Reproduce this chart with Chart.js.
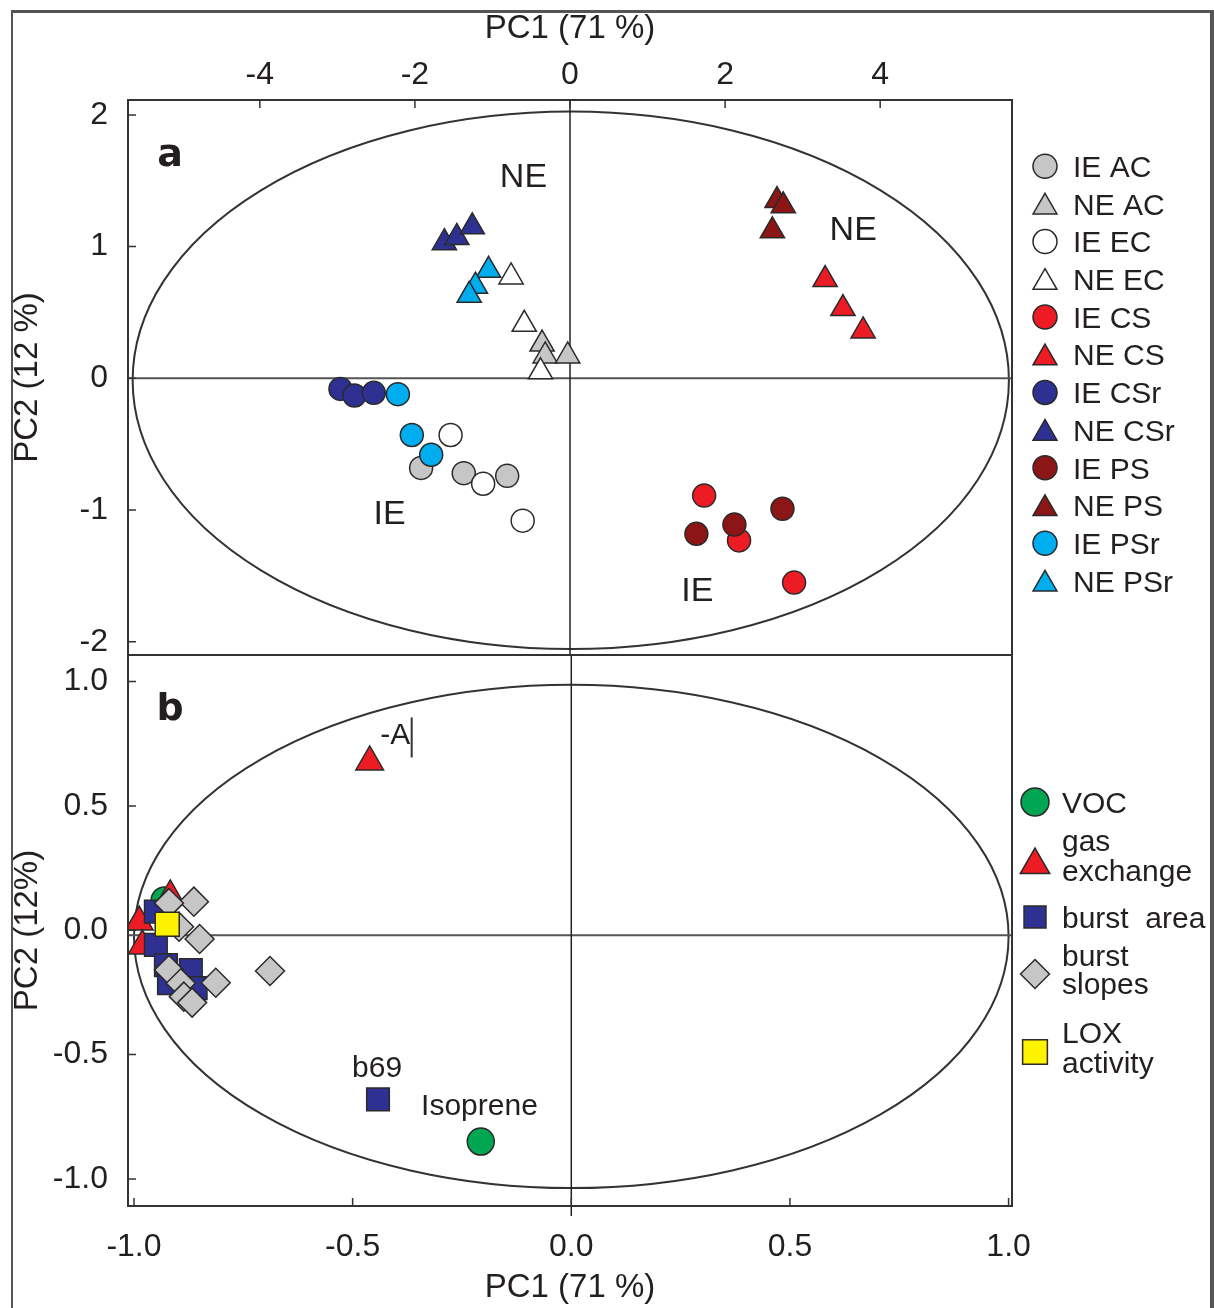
<!DOCTYPE html>
<html>
<head>
<meta charset="utf-8">
<script src="https://cdn.jsdelivr.net/npm/chart.js@4.4.0/dist/chart.umd.min.js"></script>
<style>
  html, body { margin: 0; padding: 0; background: #fff; width: 1214px; height: 1308px; overflow: hidden; }
  #frame { position: absolute; left: 11px; top: 10px; width: 1203px; height: 1330px; box-sizing: border-box;
           border-left: 2px solid #555; border-top: 3px solid #555; border-right: 4px solid #555; }
  #ca { position: absolute; left: 0; top: 0; }
  #cb { position: absolute; left: 0; top: 600px; }
</style>
</head>
<body>
<div id="frame"></div>
<canvas id="ca" width="1214" height="700" style="width:1214px;height:700px"></canvas>
<canvas id="cb" width="1214" height="708" style="width:1214px;height:708px"></canvas>
<script>
// ---------------- DATA : panel a (scores, PC1 vs PC2) ----------------
const seriesNamesA = ['IE AC', 'NE AC', 'IE EC', 'NE EC', 'IE CS', 'NE CS', 'IE CSr', 'NE CSr', 'IE PS', 'NE PS', 'IE PSr', 'NE PSr'];
const ieAC  = [[-1.92, -0.68], [-1.37, -0.72], [-0.81, -0.74]];
const neAC  = [[-0.36, 0.26], [-0.32, 0.17], [-0.03, 0.17]];
const ieEC  = [[-1.54, -0.43], [-1.12, -0.80], [-0.61, -1.08]];
const neEC  = [[-0.76, 0.77], [-0.59, 0.41], [-0.38, 0.05]];
const ieCS  = [[1.73, -0.89], [2.18, -1.23], [2.89, -1.55]];
const neCS  = [[3.29, 0.75], [3.52, 0.53], [3.78, 0.36]];
const ieCSr = [[-2.96, -0.08], [-2.78, -0.13], [-2.53, -0.11]];
const neCSr = [[-1.62, 1.03], [-1.46, 1.07], [-1.26, 1.15]];
const iePS  = [[1.63, -1.18], [2.12, -1.11], [2.74, -0.99]];
const nePS  = [[2.67, 1.35], [2.75, 1.31], [2.61, 1.12]];
const iePSr = [[-2.22, -0.12], [-2.04, -0.43], [-1.79, -0.58]];
const nePSr = [[-1.05, 0.82], [-1.22, 0.70], [-1.30, 0.63]];
const xTicksA = [-4, -2, 0, 2, 4];
const yTicksA = [-2, -1, 0, 1, 2];
const groupLabelsA = [['NE', -0.60, 1.52], ['IE', -2.327, -1.035], ['NE', 3.652, 1.125], ['IE', 1.642, -1.62]];
const ellipseA = { cx: 0.01, cy: -0.015, rx: 5.65, ry: 2.04 };

// ---------------- DATA : panel b (loadings) ----------------
const seriesNamesB = ['VOC', 'gas\nexchange', 'burst  area', 'burst\nslopes', 'LOX\nactivity'];
const voc         = [[-0.93, 0.12], [-0.207, -0.85]];
const gasExchange = [[-0.917, 0.138], [-0.988, 0.033], [-0.981, -0.063], [-0.461, 0.677]];
const burstArea   = [[-0.95, 0.075], [-0.95, -0.059], [-0.927, -0.14], [-0.87, -0.16], [-0.92, -0.213], [-0.859, -0.233], [-0.442, -0.68]];
const burstSlopes = [[-0.863, 0.115], [-0.92, 0.109], [-0.897, 0.014], [-0.85, -0.035], [-0.92, -0.16], [-0.813, -0.211], [-0.689, -0.164], [-0.893, -0.213], [-0.886, -0.267], [-0.867, -0.291]];
const loxActivity = [[-0.924, 0.024]];
const xTicksB = [-1.0, -0.5, 0.0, 0.5, 1.0];
const yTicksB = [-1.0, -0.5, 0.0, 0.5, 1.0];
const pointLabelsB = [['-A', -0.4026, 0.782], ['b69', -0.444, -0.556], ['Isoprene', -0.210, -0.711]];
const ellipseB = { cx: 0, cy: -0.025, rx: 1.0, ry: 1.012 };
const zeroLineB = -0.02;

// ---------------- styles ----------------
const FONT = "'Liberation Sans', Arial, Helvetica, sans-serif";
const INK = '#231f20';
const EDGE = '#2a2a2a';
const C = { gray: '#c6c6c6', white: '#ffffff', red: '#ed1c24', dblue: '#2e3192', dred: '#8c1515', lblue: '#00aeef', green: '#00a651', yellow: '#fff200' };

const seriesA = [ieAC, neAC, ieEC, neEC, ieCS, neCS, ieCSr, neCSr, iePS, nePS, iePSr, nePSr];
const fillsA = [C.gray, C.gray, C.white, C.white, C.red, C.red, C.dblue, C.dblue, C.dred, C.dred, C.lblue, C.lblue];
const seriesB = [voc, gasExchange, burstArea, burstSlopes, loxActivity];
const fillsB = [C.green, C.red, C.dblue, C.gray, C.yellow];
const stylesB = ['circle', 'triangle', 'rect', 'rectRot', 'rect'];
const radiiB = [13.5, 16, 16, 14.5, 17];
const zB = [5, 4, 3, 2, 1];

function toXY(arr) { return arr.map(([x, y]) => ({ x, y })); }

function marker(ctx, style, x, y, r, fill) {
  ctx.save();
  ctx.fillStyle = fill; ctx.strokeStyle = EDGE; ctx.lineWidth = 1.5;
  if (Chart.helpers && Chart.helpers.drawPoint) {
    Chart.helpers.drawPoint(ctx, { pointStyle: style, radius: r, rotation: 0, borderWidth: 1.5 }, x, y);
  } else {
    ctx.beginPath();
    if (style === 'circle') ctx.arc(x, y, r, 0, Math.PI * 2);
    else if (style === 'triangle') { ctx.moveTo(x, y - r); ctx.lineTo(x + r * 0.866, y + r / 2); ctx.lineTo(x - r * 0.866, y + r / 2); ctx.closePath(); }
    else if (style === 'rect') { const s = r * Math.SQRT1_2; ctx.rect(x - s, y - s, 2 * s, 2 * s); }
    else { ctx.moveTo(x, y - r); ctx.lineTo(x + r, y); ctx.lineTo(x, y + r); ctx.lineTo(x - r, y); ctx.closePath(); }
    ctx.fill(); ctx.stroke();
  }
  ctx.restore();
}

function fixedAxis(size, horizontal) {
  return s => {
    if (horizontal) s.height = size; else s.width = size;
    s.paddingLeft = 0; s.paddingRight = 0; s.paddingTop = 0; s.paddingBottom = 0;
  };
}
function setTicks(values) { return s => { s.ticks = values.map(v => ({ value: v })); }; }

function drawFrameAndLines(chart, ell, zeroY, vExtend) {
  const { ctx, chartArea: a, scales: { x, y } } = chart;
  ctx.save();
  const cx = x.getPixelForValue(ell.cx), cy = y.getPixelForValue(ell.cy);
  const rx = x.getPixelForValue(ell.cx + ell.rx) - cx;
  const ry = cy - y.getPixelForValue(ell.cy + ell.ry);
  ctx.beginPath(); ctx.ellipse(cx, cy, rx, ry, 0, 0, Math.PI * 2);
  ctx.lineWidth = 2; ctx.strokeStyle = '#333'; ctx.stroke();
  const y0 = y.getPixelForValue(zeroY);
  ctx.beginPath(); ctx.moveTo(a.left, y0); ctx.lineTo(a.right, y0);
  ctx.lineWidth = 2; ctx.strokeStyle = '#555'; ctx.stroke();
  const x0 = x.getPixelForValue(0);
  ctx.beginPath(); ctx.moveTo(x0, a.top); ctx.lineTo(x0, a.bottom + vExtend);
  ctx.lineWidth = 1.5; ctx.strokeStyle = '#222'; ctx.stroke();
  ctx.restore();
}

function drawBoxAndTicks(chart, xt, yt, xFromTop) {
  const { ctx, chartArea: a, scales: { x, y } } = chart;
  ctx.save();
  ctx.strokeStyle = '#333'; ctx.lineWidth = 2;
  ctx.strokeRect(a.left, a.top, a.right - a.left, a.bottom - a.top);
  ctx.lineWidth = 1.5;
  ctx.beginPath();
  xt.forEach(v => {
    const px = x.getPixelForValue(v);
    if (xFromTop) { ctx.moveTo(px, a.top); ctx.lineTo(px, a.top + 8); }
    else { ctx.moveTo(px, a.bottom); ctx.lineTo(px, a.bottom - 8); }
  });
  yt.forEach(v => {
    const py = y.getPixelForValue(v);
    ctx.moveTo(a.left, py); ctx.lineTo(a.left + 8, py);
  });
  ctx.stroke();
  ctx.restore();
}

const tickFont = { family: FONT, size: 32 };
const titleFont = { family: FONT, size: 33 };

// ---------------- Chart a ----------------
const decorA = {
  id: 'decorA',
  beforeDatasetsDraw(chart) { drawFrameAndLines(chart, ellipseA, 0, 0); },
  afterDatasetsDraw(chart) {
    drawBoxAndTicks(chart, xTicksA, yTicksA, true);
    const { ctx, scales: { x, y } } = chart;
    ctx.save();
    ctx.fillStyle = INK; ctx.textAlign = 'center'; ctx.textBaseline = 'middle';
    ctx.font = '34px ' + FONT;
    groupLabelsA.forEach(([t, vx, vy]) => ctx.fillText(t, x.getPixelForValue(vx), y.getPixelForValue(vy)));
    ctx.font = "bold 38px 'DejaVu Sans', Verdana, sans-serif";
    ctx.textBaseline = 'alphabetic';
    ctx.fillText('a', 170, 166);
    ctx.font = '30px ' + FONT; ctx.textAlign = 'left';
    chart.data.datasets.forEach((ds, i) => {
      const cy = 166.2 + i * 37.7;
      const tri = ds.pointStyle === 'triangle';
      const r = tri ? 13.8 : 12;
      marker(ctx, ds.pointStyle, 1045, tri ? cy + 0.23 * r : cy, r, ds.backgroundColor);
      ctx.fillStyle = INK;
      ctx.fillText(ds.label, 1073, cy + 10.7);
    });
    ctx.restore();
  }
};

new Chart(document.getElementById('ca'), {
  type: 'scatter',
  data: {
    datasets: seriesA.map((pts, i) => {
      const tri = i % 2 === 1;
      return {
        label: seriesNamesA[i], data: toXY(pts),
        pointStyle: tri ? 'triangle' : 'circle',
        pointRadius: tri ? 14 : 11.5, pointHoverRadius: tri ? 14 : 11.5,
        backgroundColor: fillsA[i], borderColor: EDGE, borderWidth: 1.5,
        order: 11 - i
      };
    })
  },
  options: {
    responsive: false, animation: false, devicePixelRatio: 1, events: [],
    layout: { padding: { left: 0, top: 0, right: 202, bottom: 45 } },
    plugins: { legend: { display: false }, tooltip: { enabled: false } },
    scales: {
      x: {
        type: 'linear', position: 'top', min: -5.7, max: 5.7,
        afterBuildTicks: setTicks(xTicksA), afterFit: fixedAxis(100, true),
        grid: { display: false, drawTicks: false }, border: { display: false },
        ticks: { padding: 6, color: INK, font: tickFont, autoSkip: false, maxRotation: 0, callback: v => String(v) },
        title: { display: true, text: 'PC1 (71 %)', color: INK, font: titleFont, padding: { top: 9, bottom: 0 } }
      },
      y: {
        type: 'linear', position: 'left', min: -2.1, max: 2.113,
        afterBuildTicks: setTicks(yTicksA), afterFit: fixedAxis(128, false),
        grid: { display: false, drawTicks: false }, border: { display: false },
        ticks: { padding: 20, color: INK, font: tickFont, autoSkip: false, callback: v => String(v) },
        title: { display: true, text: 'PC2 (12 %)', color: INK, font: titleFont, padding: { top: 8, bottom: 0 } }
      }
    }
  },
  plugins: [decorA]
});

// ---------------- Chart b ----------------
const decorB = {
  id: 'decorB',
  beforeDatasetsDraw(chart) { drawFrameAndLines(chart, ellipseB, zeroLineB, 10); },
  afterDatasetsDraw(chart) {
    drawBoxAndTicks(chart, xTicksB, yTicksB, false);
    const { ctx, scales: { x, y } } = chart;
    ctx.save();
    ctx.fillStyle = INK; ctx.textAlign = 'center'; ctx.textBaseline = 'middle';
    ctx.font = '30px ' + FONT;
    pointLabelsB.forEach(([t, vx, vy]) => ctx.fillText(t, x.getPixelForValue(vx), y.getPixelForValue(vy)));
    const bx = x.getPixelForValue(-0.365);
    ctx.strokeStyle = '#333'; ctx.lineWidth = 2;
    ctx.beginPath(); ctx.moveTo(bx, y.getPixelForValue(0.856)); ctx.lineTo(bx, y.getPixelForValue(0.695)); ctx.stroke();
    ctx.font = "bold 38px 'DejaVu Sans', Verdana, sans-serif";
    ctx.textBaseline = 'alphabetic';
    ctx.fillText('b', 170, 720 - 600);
    const off = 600;
    const markY = [802, 865, 917, 974, 1052];
    const legR = [14, 17, 15.5, 14.5, 17.5];
    const baseY = [[813], [851, 881], [928], [966, 994], [1043, 1073]];
    ctx.font = '30px ' + FONT; ctx.textAlign = 'left';
    chart.data.datasets.forEach((ds, i) => {
      marker(ctx, ds.pointStyle, 1035, markY[i] - off, legR[i], ds.backgroundColor);
      ctx.fillStyle = INK;
      ds.label.split('\n').forEach((line, j) => ctx.fillText(line, 1062, baseY[i][j] - off));
    });
    ctx.restore();
  }
};

new Chart(document.getElementById('cb'), {
  type: 'scatter',
  data: {
    datasets: seriesB.map((pts, i) => ({
      label: seriesNamesB[i], data: toXY(pts),
      pointStyle: stylesB[i], pointRadius: radiiB[i], pointHoverRadius: radiiB[i],
      backgroundColor: fillsB[i], borderColor: EDGE, borderWidth: 1.5,
      order: zB[i]
    }))
  },
  options: {
    responsive: false, animation: false, devicePixelRatio: 1, events: [],
    layout: { padding: { left: 0, top: 55, right: 202, bottom: 0 } },
    plugins: { legend: { display: false }, tooltip: { enabled: false } },
    scales: {
      x: {
        type: 'linear', position: 'bottom', min: -1.0137, max: 1.0078,
        afterBuildTicks: setTicks(xTicksB), afterFit: fixedAxis(102, true),
        grid: { display: false, drawTicks: false }, border: { display: false },
        ticks: { padding: 22, color: INK, font: tickFont, autoSkip: false, maxRotation: 0, callback: v => Number(v).toFixed(1) },
        title: { display: true, text: 'PC1 (71 %)', color: INK, font: titleFont, padding: { top: 0, bottom: 0 } }
      },
      y: {
        type: 'linear', position: 'left', min: -1.109, max: 1.107,
        afterBuildTicks: setTicks(yTicksB), afterFit: fixedAxis(128, false),
        grid: { display: false, drawTicks: false }, border: { display: false },
        ticks: { padding: 20, color: INK, font: tickFont, autoSkip: false, callback: v => Number(v).toFixed(1) },
        title: { display: true, text: 'PC2 (12%)', color: INK, font: titleFont, padding: { top: 8, bottom: 0 } }
      }
    }
  },
  plugins: [decorB]
});
</script>
</body>
</html>
